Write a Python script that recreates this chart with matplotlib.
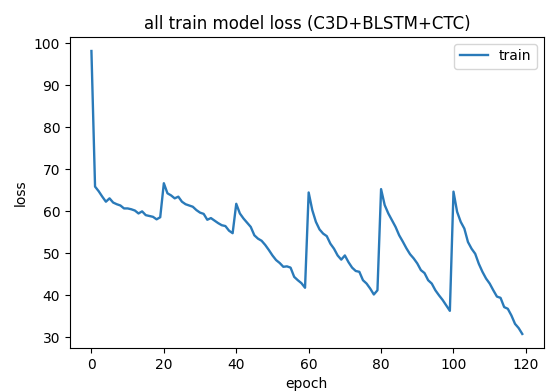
import numpy as np
import matplotlib
matplotlib.use("Agg")
import matplotlib.pyplot as plt

# loss per epoch
loss_0_19 = [98.2, 65.9, 64.8, 63.5, 62.3, 63.1, 62.1, 61.7, 61.4, 60.7,
             60.7, 60.5, 60.2, 59.5, 60.0, 59.1, 58.9, 58.7, 58.1, 58.6]
loss_20_39 = [66.7, 64.3, 63.8, 63.1, 63.5, 62.3, 61.7, 61.4, 61.1, 60.3,
              59.7, 59.4, 58.0, 58.4, 57.8, 57.2, 56.7, 56.5, 55.4, 54.8]
loss_40_59 = [61.8, 59.5, 58.3, 57.3, 56.3, 54.3, 53.5, 53.0, 52.0, 50.8,
              49.5, 48.4, 47.7, 46.8, 46.9, 46.6, 44.4, 43.6, 42.9, 41.8]
loss_60_79 = [64.5, 60.3, 57.5, 55.7, 54.7, 54.1, 52.3, 51.1, 49.5, 48.5,
              49.5, 47.9, 46.6, 45.8, 45.6, 43.6, 42.8, 41.6, 40.2, 41.2]
loss_80_99 = [65.3, 61.5, 59.5, 57.9, 56.3, 54.3, 52.8, 51.2, 49.8, 48.8,
              47.6, 46.0, 45.3, 43.6, 42.8, 41.2, 40.0, 38.9, 37.6, 36.3]
loss_100_119 = [64.7, 59.9, 57.5, 55.9, 52.7, 51.1, 49.9, 47.5, 45.6, 44.0,
                42.8, 41.2, 39.7, 39.4, 37.2, 36.8, 35.2, 33.2, 32.2, 30.8]

loss = loss_0_19 + loss_20_39 + loss_40_59 + loss_60_79 + loss_80_99 + loss_100_119
epochs = np.arange(len(loss))

plt.rcParams['font.size'] = 10

fig = plt.figure(figsize=(5.46, 3.92), dpi=100)
ax = fig.add_axes([0.128, 0.112, 0.868, 0.794])
ax.plot(epochs, loss, label='train', color='#2a7ab9', linewidth=1.7)
ax.set_title('all train model loss (C3D+BLSTM+CTC)')
ax.set_xlabel('epoch')
ax.set_ylabel('loss')
ax.legend(loc='upper right')

fig.savefig('out.png', dpi=100)
